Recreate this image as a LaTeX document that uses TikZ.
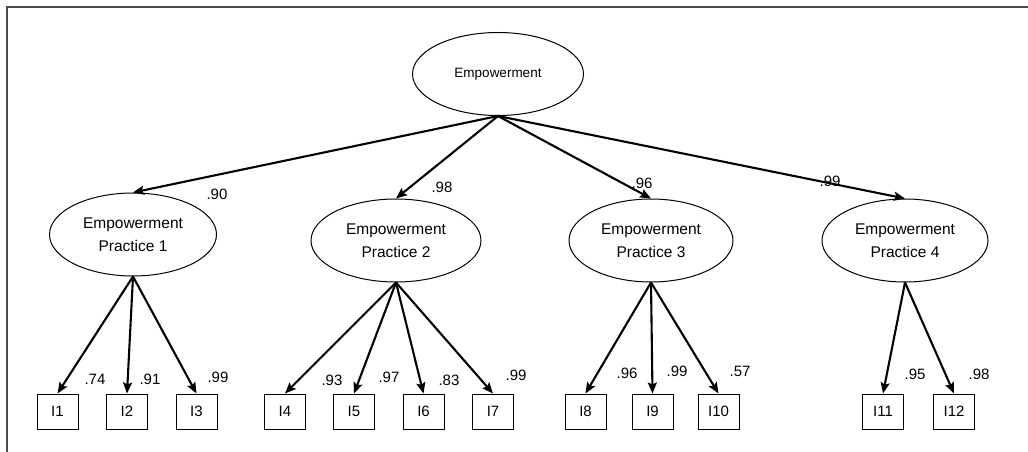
\documentclass[tikz,border=0pt]{standalone}
\usepackage{fontspec}
\setmainfont{Liberation Sans}
\usetikzlibrary{shapes.geometric,arrows.meta}
\begin{document}
\begin{tikzpicture}[x=1pt,y=-1pt,
  latent/.style={draw,ellipse,line width=1pt,inner sep=0pt,minimum width=166pt,minimum height=83pt,align=center,font=\fontsize{15.5}{22.5}\selectfont},
  item/.style={draw,rectangle,line width=1pt,inner sep=0pt,minimum width=41pt,minimum height=35pt,font=\fontsize{15}{18}\selectfont},
  path/.style={line width=2.1pt,-{Stealth[length=11pt,width=9pt,inset=2pt]}},
  lbl/.style={font=\fontsize{15}{18}\selectfont,inner sep=0pt}]
\useasboundingbox (0,0) rectangle (1028,452);
\draw[line width=1.4pt,black!70] (7,452) -- (7,7) -- (1028,7);

\node[latent,minimum width=171pt,font=\fontsize{13.5}{16}\selectfont] (E) at (498,74) {Empowerment};
\node[latent,minimum width=167pt] (P1) at (133,234.5) {Empowerment\\Practice 1};
\node[latent,minimum width=170pt] (P2) at (396,240.5) {Empowerment\\Practice 2};
\node[latent,minimum width=164pt] (P3) at (651,240.5) {Empowerment\\Practice 3};
\node[latent,minimum width=166pt] (P4) at (905,240.5) {Empowerment\\Practice 4};

\foreach \n/\x in {1/57.5,2/127,3/196.5,4/285,5/354,6/423.5,7/493,8/585.5,9/652.5,10/718.5,11/883,12/954}
  \node[item] (I\n) at (\x,411.5) {I\n};

\foreach \p in {P1,P2,P3,P4} \draw[path] (E.south) -- (\p.north);
\foreach \n in {1,2,3} \draw[path] (P1.south) -- (I\n.north);
\foreach \n in {4,5,6,7} \draw[path] (P2.south) -- (I\n.north);
\foreach \n in {8,9,10} \draw[path] (P3.south) -- (I\n.north);
\foreach \n in {11,12} \draw[path] (P4.south) -- (I\n.north);

\node[lbl] (l1) at (217,194) {.90};
\node[lbl] (l2) at (442,187) {.98};
\node[lbl] (l3) at (642,183) {.96};
\node[lbl] (l4) at (830,181) {.99};

\node[lbl] (a1) at (95,379) {.74};
\node[lbl] (a2) at (150,379) {.91};
\node[lbl] (a3) at (218,377) {.99};
\node[lbl] (a4) at (332,380) {.93};
\node[lbl] (a5) at (389,377) {.97};
\node[lbl] (a6) at (449,380) {.83};
\node[lbl] (a7) at (516,375) {.99};
\node[lbl] (a8) at (627,373) {.96};
\node[lbl] (a9) at (677,371) {.99};
\node[lbl] (a10) at (740,371) {.57};
\node[lbl] (a11) at (915,374) {.95};
\node[lbl] (a12) at (979,374) {.98};
\end{tikzpicture}
\end{document}
